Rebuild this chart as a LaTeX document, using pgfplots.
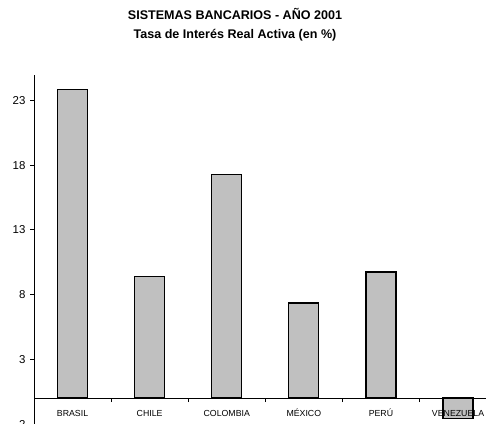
\documentclass[border=0pt]{standalone}
\usepackage{pgfplots}
\pgfplotsset{compat=1.18}
\usepackage{fontspec}
\setmainfont{Liberation Sans}
\definecolor{barfill}{RGB}{192,192,192}
\begin{document}
\begin{tikzpicture}
\path[use as bounding box, clip] (-34bp,0bp) rectangle (452bp,424bp);
\begin{axis}[
  at={(0bp,0bp)}, anchor=south west,
  scale only axis,
  width=462.6bp, height=349.4bp,
  xmin=-0.5, xmax=5.5, ymin=-2, ymax=25,
  axis x line=middle, axis y line=left,
  axis line style={-, black, line width=0.8bp},
  tick align=outside,
  xtick={0,1,2,3,4,5},
  xticklabels={BRASIL,CHILE,COLOMBIA,MÉXICO,PERÚ,VENEZUELA},
  major x tick style={draw=none},
  minor xtick={0.5,1.5,2.5,3.5,4.5},
  minor x tick style={black, line width=0.8bp},
  minor tick length=4bp,
  ytick={-2,3,8,13,18,23},
  major tick length=4bp,
  y tick style={black, line width=0.8bp},
  /pgf/number format/assume math mode=true,
  yticklabel style={font=\fontsize{11.5}{13}\selectfont, xshift=-1bp},
  xticklabel style={font=\fontsize{8.8}{10}\selectfont, text height=7bp, text depth=0bp, yshift=-3.5bp},
  axis on top,
]
\addplot[ybar, bar width=30bp, fill=barfill, draw=black, line width=1.3bp] coordinates {
  (0,23.85) (1,9.39) (2,17.3) (3,7.35) (4,9.75) (5,-1.56)
};
\end{axis}
\node[anchor=base, font=\bfseries\fontsize{12.6}{14}\selectfont] at (201bp,404bp) {SISTEMAS BANCARIOS - AÑO 2001};
\node[anchor=base, font=\bfseries\fontsize{12.6}{14}\selectfont] at (201bp,385.5bp) {Tasa de Interés Real Activa (en \%)};
\end{tikzpicture}
\end{document}
